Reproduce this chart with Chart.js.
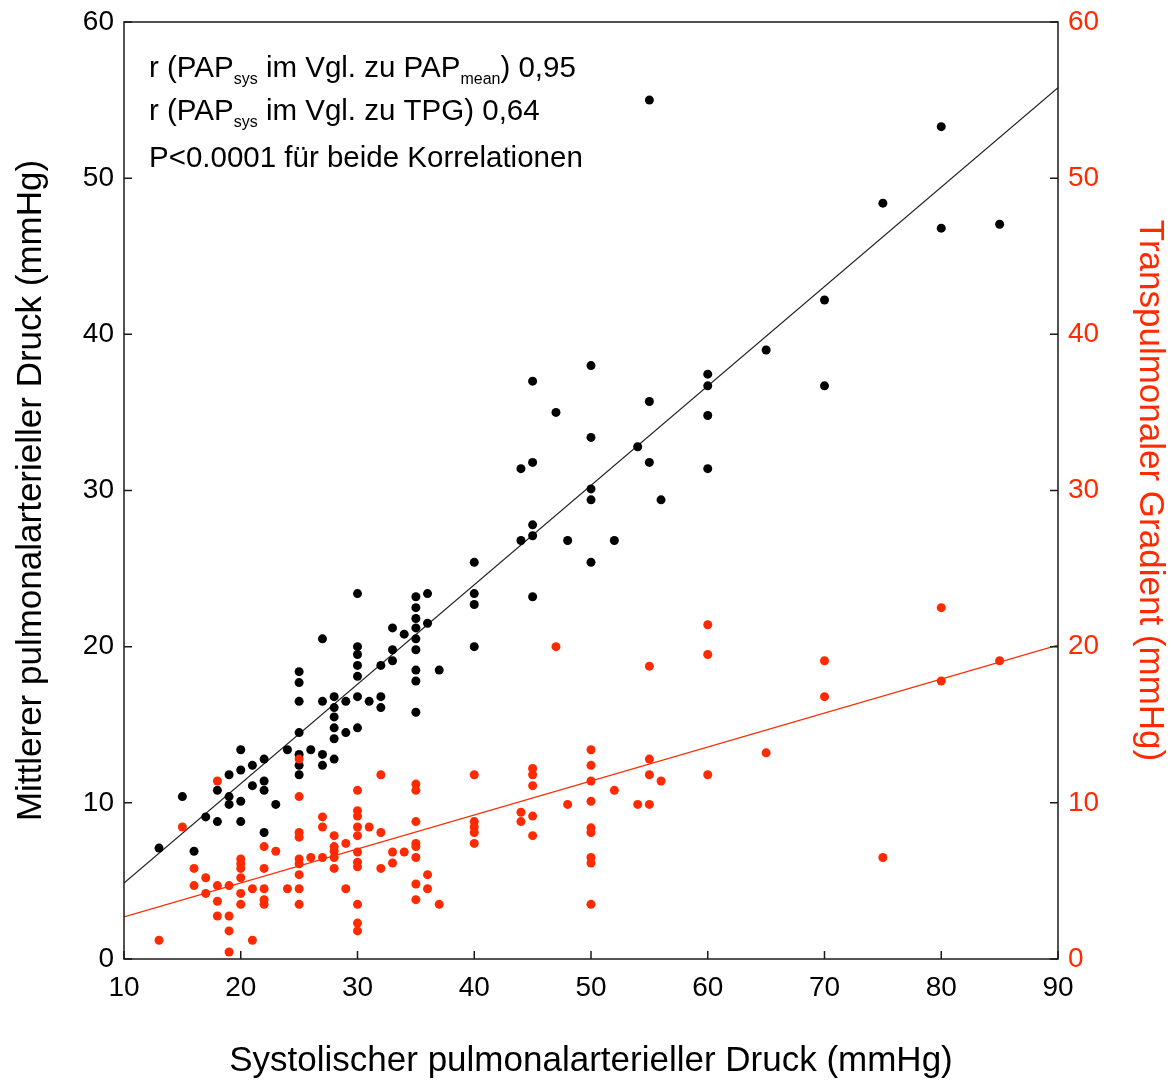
<!DOCTYPE html>
<html>
<head>
<meta charset="utf-8">
<script src="https://cdn.jsdelivr.net/npm/chart.js@4.4.1/dist/chart.umd.min.js"></script>
<style>
html,body{margin:0;padding:0;background:#fff;}
#wrap{width:1172px;height:1082px;position:relative;}
</style>
</head>
<body>
<div id="wrap"><canvas id="c" width="1172" height="1082"></canvas></div>
<script>
// ---- data ----
const xTicks = [10, 20, 30, 40, 50, 60, 70, 80, 90];
const yTicks = [0, 10, 20, 30, 40, 50, 60];

// PAPsys (x) vs. PAPmean (left axis, black)
const meanX = [13,15,16,17,18,18,19,19,19,20,20,20,20,21,21,22,22,22,22,23,24,
  25,25,25,25,25,25,25,26,27,27,27,27,28,28,28,28,28,28,29,29,
  30,30,30,30,30,30,30,31,32,32,32,33,33,33,34,
  35,35,35,35,35,35,35,35,35,36,36,37,40,40,40,40,
  44,44,45,45,45,45,45,47,48,50,50,50,50,50,52,54,55,55,55,56,
  60,60,60,60,65,70,70,75,80,80,85];
const meanY = [7.1,10.4,6.9,9.1,10.8,8.8,11.8,10.4,9.9,13.4,12.1,10.1,8.8,12.4,11.1,12.8,11.4,10.8,8.1,9.9,13.4,
  18.4,17.7,16.5,14.5,13.1,12.4,11.8,13.4,20.5,16.5,13.1,12.4,16.8,16.1,15.5,14.8,14.1,12.8,16.5,14.5,
  23.4,20.0,19.5,18.8,18.1,16.8,14.8,16.5,18.8,16.8,16.1,21.2,19.8,19.1,20.8,
  23.2,22.5,21.8,21.2,20.5,19.8,18.5,17.8,15.8,23.4,21.5,18.5,25.4,23.4,22.7,20.0,
  31.4,26.8,37.0,31.8,27.8,27.1,23.2,35.0,26.8,38.0,33.4,30.1,29.4,25.4,26.8,32.8,55.0,35.7,31.8,29.4,
  37.45,36.7,34.8,31.4,39.0,42.2,36.7,48.4,53.3,46.8,47.05];

// PAPsys (x) vs. TPG (right axis, red)
const tpgX = [13,15,16,16,17,17,18,18,18,18,19,19,19,19,20,20,20,20,20,20,21,21,
  22,22,22,22,22,23,24,25,25,25,25,25,25,25,25,25,26,27,27,27,28,28,28,28,28,29,29,
  30,30,30,30,30,30,30,30,30,30,30,31,32,32,32,33,33,34,
  35,35,35,35,35,35,35,35,36,36,37,40,40,40,40,40,44,44,45,45,45,45,45,47,48,
  50,50,50,50,50,50,50,50,50,52,54,55,55,55,55,56,60,60,60,65,70,70,75,80,80,85];
const tpgY = [1.2,8.45,5.8,4.7,5.2,4.2,11.4,4.7,3.7,2.75,4.7,2.75,1.8,0.45,6.4,6.1,5.8,5.2,4.2,3.5,4.5,1.2,
  7.2,5.8,4.5,3.8,3.5,6.9,4.5,12.8,10.4,8.1,7.8,6.4,6.1,5.4,4.5,3.5,6.5,9.1,8.45,6.5,7.9,7.2,6.9,6.5,5.8,7.4,4.5,
  10.8,9.5,9.15,8.45,7.9,6.85,6.2,5.9,3.5,2.3,1.8,8.45,11.8,8.1,5.8,6.85,6.15,6.85,
  11.2,10.8,8.8,7.4,7.2,6.5,4.8,3.8,5.4,4.5,3.5,11.8,8.8,8.45,8.1,7.4,9.4,8.8,12.2,11.8,11.1,9.15,7.9,20.0,9.9,
  13.4,12.4,11.4,10.1,8.4,8.1,6.5,6.15,3.5,10.8,9.9,18.75,12.8,11.8,9.9,11.4,21.4,19.5,11.8,13.2,19.1,16.8,6.5,22.5,17.8,19.1];

// regression lines: end values read at x = 10 and x = 90
const fitX = [10, 90];
const meanFitY = [4.87, 55.8];
const tpgFitY = [2.7, 20.1];

const annotLines = [
  [["r (PAP",0],["sys",1],[" im Vgl. zu PAP",0],["mean",1],[") 0,95",0]],
  [["r (PAP",0],["sys",1],[" im Vgl. zu TPG) 0,64",0]],
  [["P<0.0001 für beide Korrelationen",0]]
];

const RED = '#ff2a00';
const FONT = "'Liberation Sans', Arial, Helvetica, sans-serif";

const pts = (xs, ys) => xs.map((x, i) => ({x: x, y: ys[i]}));

const frame = {
  id: 'frame',
  afterDatasetsDraw(chart) {
    const {ctx, chartArea: a, scales} = chart;
    ctx.save();
    ctx.strokeStyle = '#1a1a1a';
    ctx.lineWidth = 1.5;
    ctx.strokeRect(a.left, a.top, a.right - a.left, a.bottom - a.top);
    ctx.beginPath();
    const tl = 8;
    xTicks.forEach(v => { const p = scales.x.getPixelForValue(v); ctx.moveTo(p, a.bottom); ctx.lineTo(p, a.bottom - tl); });
    yTicks.forEach(v => { const p = scales.y.getPixelForValue(v); ctx.moveTo(a.left, p); ctx.lineTo(a.left + tl, p); });
    yTicks.forEach(v => { const p = scales.y2.getPixelForValue(v); ctx.moveTo(a.right, p); ctx.lineTo(a.right - tl, p); });
    ctx.stroke();
    // annotation text
    ctx.fillStyle = '#000';
    ctx.textBaseline = 'alphabetic';
    ctx.textAlign = 'left';
    const x0 = a.left + 25;
    const bases = [a.top + 55, a.top + 98, a.top + 145];
    annotLines.forEach((line, li) => {
      let x = x0;
      line.forEach(([t, sub]) => {
        ctx.font = (sub ? '16px ' : '29.5px ') + FONT;
        ctx.fillText(t, x, bases[li] + (sub ? 7 : 0));
        x += ctx.measureText(t).width;
      });
    });
    ctx.restore();
  }
};

const noPad = s => { s.paddingTop = 0; s.paddingBottom = 0; };

new Chart(document.getElementById('c'), {
  type: 'scatter',
  data: {
    datasets: [
      { label: 'TPG', data: pts(tpgX, tpgY), yAxisID: 'y2', backgroundColor: RED, borderColor: RED,
        pointRadius: 4.5, pointBorderWidth: 0, order: 0 },
      { label: 'PAPmean', data: pts(meanX, meanY), yAxisID: 'y', backgroundColor: '#000', borderColor: '#000',
        pointRadius: 4.5, pointBorderWidth: 0, order: 1 },
      { type: 'line', label: 'fit mean', data: pts(fitX, meanFitY), yAxisID: 'y', borderColor: '#222',
        borderWidth: 1.2, pointRadius: 0, fill: false, order: 2 },
      { type: 'line', label: 'fit tpg', data: pts(fitX, tpgFitY), yAxisID: 'y2', borderColor: RED,
        borderWidth: 1.2, pointRadius: 0, fill: false, order: 2 }
    ]
  },
  options: {
    responsive: false,
    animation: false,
    devicePixelRatio: 1,
    layout: { padding: { top: 22, left: 0, right: 0, bottom: 0 } },
    plugins: { legend: { display: false }, tooltip: { enabled: false } },
    scales: {
      x: {
        type: 'linear', min: 10, max: 90,
        afterBuildTicks: s => { s.ticks = xTicks.map(v => ({value: v})); },
        afterFit: s => { s.height = 123; },
        grid: { display: false, drawTicks: false },
        border: { display: false },
        ticks: { color: '#000', padding: 12, font: { family: FONT, size: 28 } },
        title: { display: true, text: 'Systolischer pulmonalarterieller Druck (mmHg)', color: '#000',
          font: { family: FONT, size: 35 }, padding: { top: 0, bottom: 0 } }
      },
      y: {
        type: 'linear', position: 'left', min: 0, max: 60,
        afterBuildTicks: s => { s.ticks = yTicks.map(v => ({value: v})); },
        afterFit: s => { s.width = 124; noPad(s); },
        grid: { display: false, drawTicks: false },
        border: { display: false },
        ticks: { color: '#000', padding: 10, font: { family: FONT, size: 28 } },
        title: { display: true, text: 'Mittlerer pulmonalarterieller Druck (mmHg)', color: '#000',
          font: { family: FONT, size: 35 }, padding: { top: 10, bottom: 0 } }
      },
      y2: {
        type: 'linear', position: 'right', min: 0, max: 60,
        afterBuildTicks: s => { s.ticks = yTicks.map(v => ({value: v})); },
        afterFit: s => { s.width = 114; noPad(s); },
        grid: { display: false, drawTicks: false },
        border: { display: false },
        ticks: { color: RED, padding: 10, font: { family: FONT, size: 28 } },
        title: { display: true, text: 'Transpulmonaler Gradient (mmHg)', color: RED,
          font: { family: FONT, size: 35 }, padding: { top: 1, bottom: 0 } }
      }
    }
  },
  plugins: [frame]
});
</script>
</body>
</html>
